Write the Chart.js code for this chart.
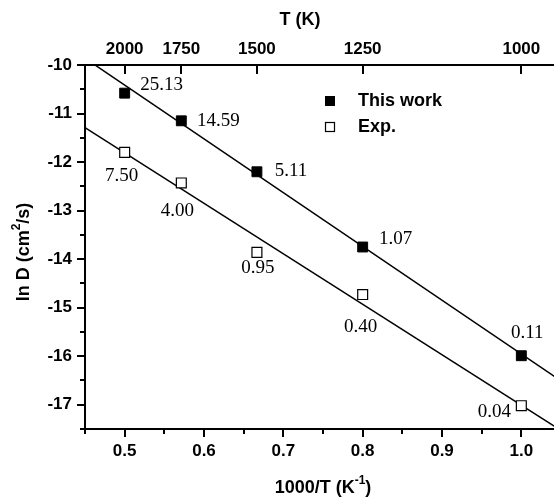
<!DOCTYPE html>
<html>
<head>
<meta charset="utf-8">
<script src="https://cdn.jsdelivr.net/npm/chart.js@4/dist/chart.umd.min.js"></script>
<style>
  html, body { margin: 0; padding: 0; background: #fff; overflow: hidden; }
  #wrap { position: absolute; left: 0; top: 0; width: 561px; height: 497px; }
</style>
</head>
<body>
<div id="wrap"><canvas id="c"></canvas></div>
<script>
// ---- data ----
const invT = [0.5, 0.5714, 0.6667, 0.8, 1.0];           // 1000/T (K^-1)
const thisWorkY = [-10.58, -11.15, -12.20, -13.75, -15.99];
const expY = [-11.80, -12.43, -13.86, -14.73, -17.02];
const thisWorkLabels = ['25.13', '14.59', '5.11', '1.07', '0.11'];
const expLabels = ['7.50', '4.00', '0.95', '0.40', '0.04'];
const fitX = [0.45, 1.05];
const thisFitY = [-9.86, -16.51];
const expFitY = [-11.29, -17.53];
const xMajorTicks = [0.5, 0.6, 0.7, 0.8, 0.9, 1.0];
const xMinorTicks = [0.45, 0.55, 0.65, 0.75, 0.85, 0.95, 1.05];
const yMajorTicks = [-17, -16, -15, -14, -13, -12, -11, -10];
const yMinorTicks = [-17.5, -16.5, -15.5, -14.5, -13.5, -12.5, -11.5, -10.5];
const tempTicksK = [2000, 1750, 1500, 1250, 1000];

// label offsets (px, style only)
const thisWorkLabelOffsets = [[37, -8], [37, 0], [34, -1], [33, -8], [6, -23]];
const expLabelOffsets = [[-3, 24], [-4, 28], [1, 16], [-2, 32], [-27, 6]];

const SANS = '"Liberation Sans", Arial, Helvetica, sans-serif';
const SERIF = '"Liberation Serif", "Times New Roman", serif';

const pts = (xs, ys) => xs.map((x, i) => ({ x: x, y: ys[i] }));

const tickFont = { family: SANS, size: 17, weight: 'bold' };

const decorPlugin = {
  id: 'decor',
  afterDraw(chart) {
    const ctx = chart.ctx;
    const xs = chart.scales.x, ys = chart.scales.y, xt = chart.scales.x2;
    const area = chart.chartArea;
    ctx.save();
    ctx.strokeStyle = '#000';
    ctx.lineWidth = 2;
    ctx.beginPath();
    // bottom ticks
    xMajorTicks.forEach(v => { const p = Math.round(xs.getPixelForValue(v)); ctx.moveTo(p, area.bottom); ctx.lineTo(p, area.bottom + 8); });
    xMinorTicks.forEach(v => { const p = Math.round(xs.getPixelForValue(v)); ctx.moveTo(p, area.bottom); ctx.lineTo(p, area.bottom + 5); });
    // left ticks
    yMajorTicks.forEach(v => { const p = Math.round(ys.getPixelForValue(v)); ctx.moveTo(area.left, p); ctx.lineTo(area.left - 8, p); });
    yMinorTicks.forEach(v => { const p = Math.round(ys.getPixelForValue(v)); ctx.moveTo(area.left, p); ctx.lineTo(area.left - 5, p); });
    // top ticks (inward)
    tempTicksK.forEach(t => { const p = Math.round(xt.getPixelForValue(1000 / t)); ctx.moveTo(p, area.top); ctx.lineTo(p, area.top + 9); });
    ctx.stroke();

    // point annotations
    ctx.fillStyle = '#000';
    ctx.font = '19px ' + SERIF;
    ctx.textAlign = 'center';
    ctx.textBaseline = 'middle';
    invT.forEach((x, i) => {
      const px = xs.getPixelForValue(x), py = ys.getPixelForValue(thisWorkY[i]);
      ctx.fillText(thisWorkLabels[i], px + thisWorkLabelOffsets[i][0], py + thisWorkLabelOffsets[i][1]);
      const qy = ys.getPixelForValue(expY[i]);
      ctx.fillText(expLabels[i], px + expLabelOffsets[i][0], qy + expLabelOffsets[i][1]);
    });

    // legend
    ctx.font = 'bold 18px ' + SANS;
    ctx.textAlign = 'left';
    ctx.fillRect(325, 96, 10, 10);
    ctx.lineWidth = 1.2;
    ctx.fillStyle = '#fff';
    ctx.fillRect(325.5, 122.5, 9, 9);
    ctx.strokeRect(325.5, 122.5, 9, 9);
    ctx.fillStyle = '#000';
    ctx.fillText(chart.data.datasets[0].label, 358, 101);
    ctx.fillText(chart.data.datasets[1].label, 358, 127);

    // axis titles
    ctx.font = 'bold 18px ' + SANS;
    ctx.textAlign = 'center';
    ctx.fillText('T (K)', 300, 20);

    // bottom title with superscript
    const drawSup = (parts, cx, cy) => {
      // parts: [text, isSup]
      let widths = parts.map(p => { ctx.font = (p[1] ? 'bold 12px ' : 'bold 18px ') + SANS; return ctx.measureText(p[0]).width; });
      const total = widths.reduce((a, b) => a + b, 0);
      let x = cx - total / 2;
      ctx.textAlign = 'left';
      parts.forEach((p, i) => {
        ctx.font = (p[1] ? 'bold 12px ' : 'bold 18px ') + SANS;
        ctx.fillText(p[0], x, p[1] ? cy - 7 : cy);
        x += widths[i];
      });
    };
    drawSup([['1000/T (K', false], ['-1', true], [')', false]], 323, 488);

    ctx.save();
    ctx.translate(24, 252);
    ctx.rotate(-Math.PI / 2);
    drawSup([['ln D (cm', false], ['2', true], ['/s)', false]], 0, 0);
    ctx.restore();

    ctx.restore();
  }
};

new Chart(document.getElementById('c'), {
  type: 'scatter',
  data: {
    datasets: [
      { label: 'This work', data: pts(invT, thisWorkY), pointStyle: 'rect', pointRadius: 7, pointHoverRadius: 7,
        backgroundColor: '#000', borderColor: '#000', borderWidth: 1, showLine: false },
      { label: 'Exp.', data: pts(invT, expY), pointStyle: 'rect', pointRadius: 7, pointHoverRadius: 7,
        backgroundColor: '#fff', borderColor: '#000', borderWidth: 1.2, showLine: false },
      { label: 'fit1', data: pts(fitX, thisFitY), showLine: true, pointRadius: 0, borderColor: '#000', borderWidth: 1.5, fill: false },
      { label: 'fit2', data: pts(fitX, expFitY), showLine: true, pointRadius: 0, borderColor: '#000', borderWidth: 1.5, fill: false }
    ]
  },
  options: {
    responsive: true,
    maintainAspectRatio: false,
    animation: false,
    devicePixelRatio: 1,
    layout: { padding: 0, autoPadding: false },
    plugins: { legend: { display: false }, tooltip: { enabled: false } },
    scales: {
      x: {
        type: 'linear', position: 'bottom', min: 0.45, max: 1.05,
        afterBuildTicks: s => { s.ticks = xMajorTicks.map(v => ({ value: v })); },
        afterFit: s => { s.height = 68; },
        grid: { display: false, drawTicks: false },
        border: { display: true, color: '#000', width: 2 },
        ticks: { font: tickFont, color: '#000', padding: 12, maxRotation: 0, autoSkip: false,
          callback: v => Number(v).toFixed(1) }
      },
      x2: {
        type: 'linear', position: 'top', min: 0.45, max: 1.05,
        afterBuildTicks: s => { s.ticks = tempTicksK.map(t => ({ value: 1000 / t })); },
        afterFit: s => { s.height = 65; },
        grid: { display: false, drawTicks: false },
        border: { display: true, color: '#000', width: 2 },
        ticks: { font: tickFont, color: '#000', padding: 5, maxRotation: 0, autoSkip: false,
          callback: v => String(Math.round(1000 / v)) }
      },
      y: {
        type: 'linear', position: 'left', min: -17.5, max: -10,
        afterBuildTicks: s => { s.ticks = yMajorTicks.map(v => ({ value: v })); },
        afterFit: s => { s.width = 85; },
        grid: { display: false, drawTicks: false },
        border: { display: true, color: '#000', width: 2 },
        ticks: { font: tickFont, color: '#000', padding: 13, autoSkip: false,
          callback: v => String(v) }
      }
    }
  },
  plugins: [decorPlugin]
});
</script>
</body>
</html>
